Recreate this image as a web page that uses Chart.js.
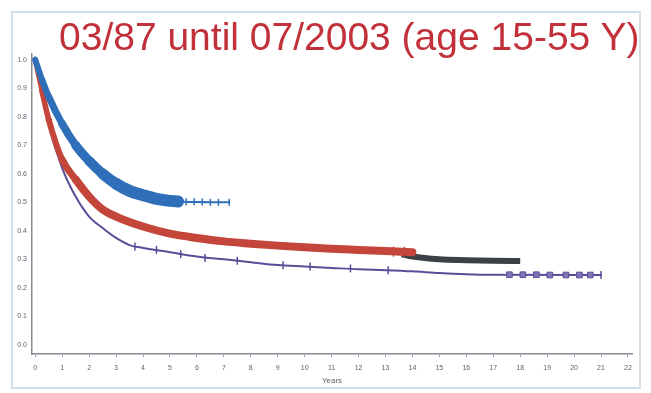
<!DOCTYPE html>
<html>
<head>
<meta charset="utf-8">
<title>Survival 03/87 - 07/2003</title>
<script src="https://cdn.jsdelivr.net/npm/chart.js@4.4.1/dist/chart.umd.min.js"></script>
<style>
    html, body { margin: 0; padding: 0; background: #fff; }
    #wrap { position: relative; width: 651px; height: 393px; overflow: hidden; }
    #frame {
        position: absolute; left: 11px; top: 11px; width: 626px; height: 374px;
        border: 2px solid #d3dde6;
    }
    #heading {
        position: absolute; left: 59px; top: 17px; margin: 0;
        font: normal 39px/39px "Liberation Sans", Arial, sans-serif;
        color: #c2303a; white-space: nowrap;
    }
    canvas { position: absolute; left: 0; top: 0; }
</style>
</head>
<body>
<div id="wrap">
    <div id="frame"></div>
    <canvas id="survivalChart" width="651" height="393"></canvas>
    <h1 id="heading">03/87 until 07/2003 (age 15-55 Y)</h1>
</div>
<script>
// axis ticks
const xTicks = [0, 1, 2, 3, 4, 5, 6, 7, 8, 9, 10, 11, 12, 13, 14, 15, 16, 17, 18, 19, 20, 21, 22];
const yTicks = [0, 0.1, 0.2, 0.3, 0.4, 0.5, 0.6, 0.7, 0.8, 0.9, 1.0];
const yTickLabels = ["0.0", "0.1", "0.2", "0.3", "0.4", "0.5", "0.6", "0.7", "0.8", "0.9", "1.0"];

// blue cohort
const blueYears = [0, 0.25, 0.5, 1, 1.5, 2, 2.5, 3, 3.5, 4, 4.5, 5, 5.3, 6, 7.2];
const blueSurv = [1.0, 0.93, 0.87, 0.775, 0.70, 0.645, 0.60, 0.565, 0.54, 0.525, 0.512, 0.505, 0.503, 0.501, 0.50];
const blueCensorYears = [5.3, 5.6, 5.9, 6.2, 6.5, 6.8, 7.2];
const blueCensorSurv = [0.503, 0.502, 0.502, 0.501, 0.50, 0.50, 0.50];

// red cohort
const redYears = [0, 0.25, 0.5, 1, 1.5, 2, 2.5, 3, 4, 5, 6, 7, 8, 9, 10, 11, 12, 13, 14];
const redSurv = [1.0, 0.89, 0.79, 0.65, 0.58, 0.52, 0.475, 0.45, 0.415, 0.39, 0.375, 0.363, 0.355, 0.348, 0.342, 0.337, 0.333, 0.329, 0.325];
const redCensorYears = [13.3, 13.7];
const redCensorSurv = [0.327, 0.326];

// dark cohort (follow-up beyond the red curve)
const darkYears = [13.6, 14, 15, 16, 17, 18];
const darkSurv = [0.318, 0.31, 0.30, 0.297, 0.295, 0.294];

// purple cohort
const purpleYears = [0, 0.25, 0.5, 1, 1.5, 2, 2.5, 3, 3.5, 4, 5, 6, 7, 8, 9, 10, 11, 12, 13, 14, 15, 16, 17, 21];
const purpleSurv = [1.0, 0.88, 0.77, 0.62, 0.52, 0.45, 0.41, 0.375, 0.35, 0.34, 0.325, 0.31, 0.30, 0.29, 0.28, 0.275, 0.27, 0.265, 0.262, 0.258, 0.252, 0.248, 0.246, 0.245];
const purpleTickYears = [3.7, 4.5, 5.4, 6.3, 7.5, 9.2, 10.2, 11.7, 13.1, 21.0];
const purpleTickSurv = [0.345, 0.333, 0.318, 0.305, 0.295, 0.279, 0.275, 0.268, 0.262, 0.245];
const purpleBoxYears = [17.6, 18.1, 18.6, 19.1, 19.7, 20.2, 20.6];
const purpleBoxSurv = [0.246, 0.246, 0.246, 0.245, 0.245, 0.245, 0.245];

const pts = (xs, ys) => xs.map((x, i) => ({ x: x, y: ys[i] }));

const blue = "#2f6fb9";
const red = "#c4463a";
const dark = "#3c4147";
const purple = "#594d97";

// shared look of the survival curves
const curve = {
    cubicInterpolationMode: "monotone",
    borderCapStyle: "round",
    borderJoinStyle: "round",
    pointRadius: 0
};

// censor marks pile up as follow-up goes on, so the bands widen slowly
const blueWidth = c => c.p0.parsed.x >= 5.3 ? 2 : Math.min(12, 6 + c.p0.parsed.x * 2);
const redWidth = c => Math.min(8, 5 + c.p0.parsed.x * 2);

const ctx = document.getElementById("survivalChart").getContext("2d");

new Chart(ctx, {
    type: "line",
    data: {
        datasets: [
            {
                ...curve,
                label: "blue",
                data: pts(blueYears, blueSurv),
                borderColor: blue,
                borderWidth: 10,
                segment: { borderWidth: blueWidth },
                order: 1
            },
            {
                label: "blue censored",
                data: pts(blueCensorYears, blueCensorSurv),
                showLine: false,
                pointStyle: "line",
                rotation: 90,
                pointRadius: 3.5,
                pointBorderWidth: 1.5,
                pointBorderColor: blue,
                order: 0
            },
            {
                ...curve,
                label: "red",
                data: pts(redYears, redSurv),
                borderColor: red,
                borderWidth: 8,
                segment: { borderWidth: redWidth },
                order: 3
            },
            {
                label: "red censored",
                data: pts(redCensorYears, redCensorSurv),
                showLine: false,
                pointStyle: "line",
                rotation: 90,
                pointRadius: 5,
                pointBorderWidth: 1.5,
                pointBorderColor: red,
                order: 2
            },
            {
                ...curve,
                label: "dark",
                data: pts(darkYears, darkSurv),
                borderColor: dark,
                borderWidth: 6,
                borderCapStyle: "butt",
                order: 4
            },
            {
                ...curve,
                label: "purple",
                data: pts(purpleYears, purpleSurv),
                borderColor: purple,
                borderWidth: 2,
                order: 6
            },
            {
                label: "purple censored",
                data: pts(purpleTickYears, purpleTickSurv),
                showLine: false,
                pointStyle: "line",
                rotation: 90,
                pointRadius: 4,
                pointBorderWidth: 1.5,
                pointBorderColor: purple,
                order: 5
            },
            {
                label: "purple censored late",
                data: pts(purpleBoxYears, purpleBoxSurv),
                showLine: false,
                pointStyle: "rect",
                pointRadius: 4,
                pointBorderWidth: 1,
                pointBorderColor: purple,
                pointBackgroundColor: "#8076b6",
                order: 5
            }
        ]
    },
    options: {
        responsive: false,
        animation: false,
        layout: {
            padding: { top: 54, right: 19, bottom: 0, left: 0 }
        },
        plugins: {
            legend: { display: false },
            tooltip: { enabled: false }
        },
        scales: {
            x: {
                type: "linear",
                min: -0.12,
                max: 22.15,
                afterBuildTicks: scale => { scale.ticks = xTicks.map(v => ({ value: v })); },
                afterFit: scale => { scale.height = 39; },
                grid: { drawOnChartArea: false, tickLength: 3, color: "#9aa0aa" },
                border: { color: "#868b96", width: 1.5 },
                ticks: {
                    padding: 7,
                    autoSkip: false,
                    maxRotation: 0,
                    color: "#5d626c",
                    font: { family: "Liberation Sans", size: 7 }
                },
                title: {
                    display: true,
                    text: "Years",
                    color: "#5d626c",
                    font: { family: "Liberation Sans", size: 8 },
                    padding: { top: 0, bottom: 7 }
                }
            },
            y: {
                min: -0.032,
                max: 1.02,
                afterBuildTicks: scale => { scale.ticks = yTicks.map(v => ({ value: v })); },
                afterFit: scale => { scale.width = 32; },
                grid: { drawOnChartArea: false, drawTicks: false },
                border: { color: "#868b96", width: 1.5 },
                ticks: {
                    padding: 5,
                    color: "#5d626c",
                    font: { family: "Liberation Sans", size: 7 },
                    callback: (value, index) => yTickLabels[index]
                }
            }
        }
    }
});
</script>
</body>
</html>
